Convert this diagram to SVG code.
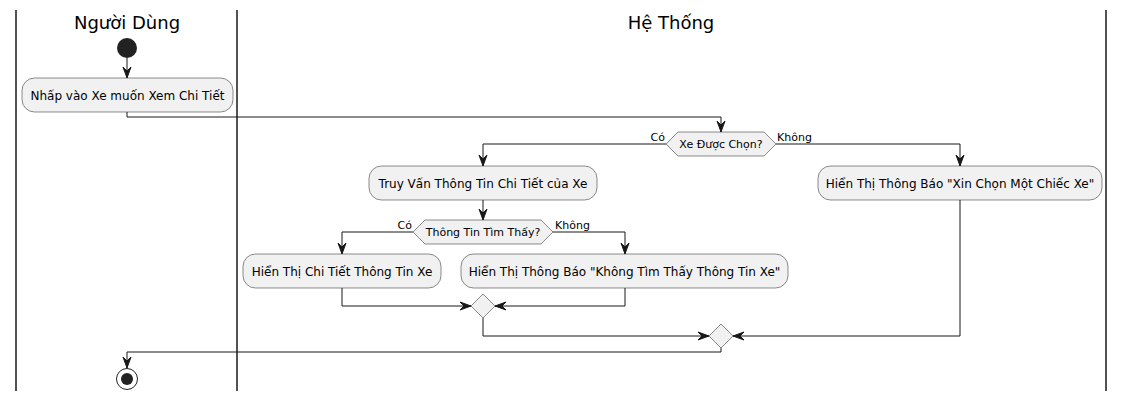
<svg xmlns="http://www.w3.org/2000/svg" width="1124" height="401" viewBox="0 0 1124 401">
<defs>
<style>
text{font-family:"DejaVu Sans","Liberation Sans",sans-serif;fill:#000}
.title{font-size:18px;text-anchor:middle}
.act{font-size:12px;text-anchor:middle}
.dtxt{font-size:11px;text-anchor:middle}
.lbl{font-size:11px}
.box{fill:#F1F1F1;stroke:#181818;stroke-width:0.5}
.lane{stroke:#181818;stroke-width:1.5}
.edge{fill:none;stroke:#181818;stroke-width:1}
.ah{fill:#181818;stroke:#181818;stroke-width:1}
</style>
<marker id="arr" viewBox="0 0 12 10" refX="11" refY="5" markerWidth="12" markerHeight="10" markerUnits="userSpaceOnUse" orient="auto">
<path d="M0,1 L11,5 L0,9 L4,5 Z" class="ah"/>
</marker>
</defs>
<rect width="1124" height="401" fill="#FFFFFF"/>
<g id="lanes">
<line class="lane" x1="16" y1="10" x2="16" y2="391"/>
<line class="lane" x1="237" y1="10" x2="237" y2="391"/>
<line class="lane" x1="1106" y1="10" x2="1106" y2="391"/>
<text class="title" x="127" y="29">Người Dùng</text>
<text class="title" x="671" y="29">Hệ Thống</text>
</g>
<g id="connectors">
<path class="edge" d="M127,58 V78" marker-end="url(#arr)"/>
<path class="edge" d="M127,112 V117 H721 V132" marker-end="url(#arr)"/>
<path class="edge" d="M666,144 H483 V166" marker-end="url(#arr)"/>
<path class="edge" d="M776,144 H960 V166" marker-end="url(#arr)"/>
<path class="edge" d="M483,200 V220" marker-end="url(#arr)"/>
<path class="edge" d="M413,232 H342 V254" marker-end="url(#arr)"/>
<path class="edge" d="M553,232 H625 V254" marker-end="url(#arr)"/>
<path class="edge" d="M342,288 V306 H471" marker-end="url(#arr)"/>
<path class="edge" d="M625,288 V306 H495" marker-end="url(#arr)"/>
<path class="edge" d="M483,318 V336 H709" marker-end="url(#arr)"/>
<path class="edge" d="M960,200 V336 H733" marker-end="url(#arr)"/>
<path class="edge" d="M721,348 V352 H127 V368" marker-end="url(#arr)"/>
<text class="lbl" x="665" y="141" text-anchor="end">Có</text>
<text class="lbl" x="777" y="141">Không</text>
<text class="lbl" x="412" y="229" text-anchor="end">Có</text>
<text class="lbl" x="555" y="229">Không</text>
</g>
<g id="start"><circle cx="127" cy="48" r="10" fill="#222222"/></g>
<g id="a1"><rect class="box" x="22" y="78" width="211" height="34" rx="12.5"/><text class="act" x="127.5" y="99.5">Nhấp vào Xe muốn Xem Chi Tiết</text></g>
<g id="d1"><polygon class="box" points="666,144 678,132 764,132 776,144 764,156 678,156"/><text class="dtxt" x="721" y="148">Xe Được Chọn?</text></g>
<g id="a2"><rect class="box" x="369" y="166" width="228" height="34" rx="12.5"/><text class="act" x="483" y="187.5">Truy Vấn Thông Tin Chi Tiết của Xe</text></g>
<g id="a3"><rect class="box" x="818" y="166" width="284" height="34" rx="12.5"/><text class="act" x="960" y="187.5">Hiển Thị Thông Báo "Xin Chọn Một Chiếc Xe"</text></g>
<g id="d2"><polygon class="box" points="413,232 425,220 541,220 553,232 541,244 425,244"/><text class="dtxt" x="483" y="236">Thông Tin Tìm Thấy?</text></g>
<g id="a4"><rect class="box" x="243" y="254" width="198" height="34" rx="12.5"/><text class="act" x="342" y="275.5">Hiển Thị Chi Tiết Thông Tin Xe</text></g>
<g id="a5"><rect class="box" x="461" y="254" width="327" height="34" rx="12.5"/><text class="act" x="624.5" y="275.5">Hiển Thị Thông Báo "Không Tìm Thấy Thông Tin Xe"</text></g>
<g id="m1"><polygon class="box" points="483,294 495,306 483,318 471,306"/></g>
<g id="m2"><polygon class="box" points="721,324 733,336 721,348 709,336"/></g>
<g id="end"><circle cx="127" cy="379" r="10.5" fill="none" stroke="#222222" stroke-width="1"/><circle cx="127" cy="379" r="6" fill="#222222"/></g>
</svg>
